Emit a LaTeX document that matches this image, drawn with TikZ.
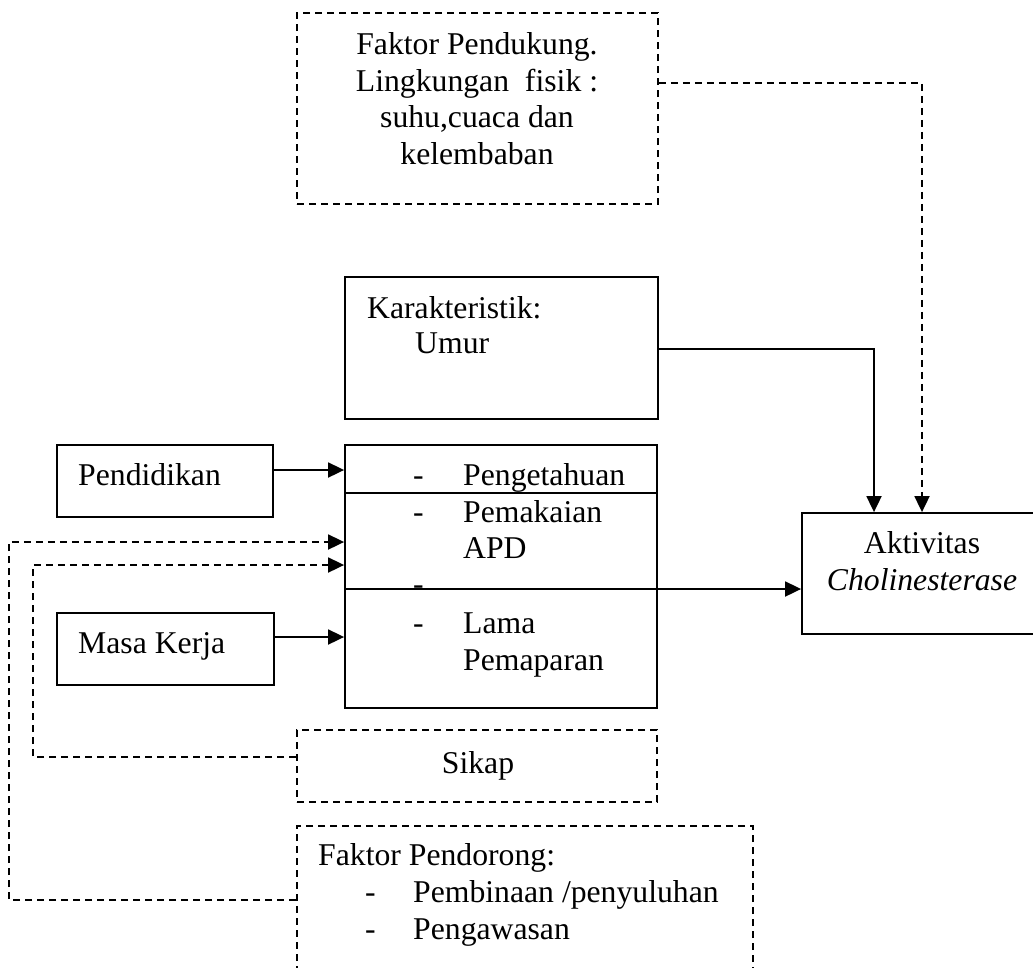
\documentclass[tikz,border=0pt]{standalone}
\usepackage{fontspec}
\setmainfont{Liberation Serif}
\usetikzlibrary{arrows.meta}
\newcommand\dgfont{\fontsize{31.7}{36.5}\selectfont}
\begin{document}
\begin{tikzpicture}[x=1pt,y=-1pt,
  box/.style={draw, line width=1.8pt, rectangle, inner sep=0pt},
  dbox/.style={box, dash pattern=on 7pt off 5pt},
  conn/.style={line width=1.8pt},
  dconn/.style={conn, dash pattern=on 7pt off 5pt},
  arr/.style={-{Triangle[length=16pt,width=15pt]}},
  txt/.style={inner sep=0pt, anchor=base west, font=\dgfont},
  ctxt/.style={inner sep=0pt, anchor=base, font=\dgfont}]
\useasboundingbox (0,0) rectangle (1033,967);
\clip (0,0) rectangle (1033,967);
\fill[white] (0,0) rectangle (1033,967);

% boxes
\node[dbox, minimum width=361pt, minimum height=191pt] (pdk) at (477.5,108.5) {};
\node[box, minimum width=313pt, minimum height=142pt] (kar) at (501.5,348) {};
\node[box, minimum width=312pt, minimum height=263pt] (mid) at (501,576.5) {};
\node[box, minimum width=216pt, minimum height=72pt] (pend) at (165,481) {};
\node[box, minimum width=217pt, minimum height=72pt] (mk) at (165.5,649) {};
\node[dbox, minimum width=360pt, minimum height=72pt] (sik) at (477,766) {};
\node[dbox, minimum width=456pt, minimum height=220pt] (pdr) at (525,936) {};
\node[box, minimum width=260pt, minimum height=121pt] (akt) at (932,573.5) {};

% texts
\node[ctxt] (t1) at (477,54) {Faktor Pendukung.};
\node[ctxt] (t2) at (477,91) {Lingkungan\ \ fisik :};
\node[ctxt] (t3) at (477,127) {suhu,cuaca dan};
\node[ctxt] (t4) at (477,164) {kelembaban};

\node[txt] (k1) at (367,318) {Karakteristik:};
\node[txt] (k2) at (415,353) {Umur};

\node[txt] (pt) at (78,485) {Pendidikan};
\node[txt] (mt) at (78,653) {Masa Kerja};

\node[txt] (d1) at (413,485) {-};
\node[txt] (m1) at (463,485) {Pengetahuan};
\node[txt] (d2) at (413,522) {-};
\node[txt] (m2) at (463,522) {Pemakaian};
\node[txt] (m3) at (463,558) {APD};
\node[txt] (d3) at (413,594) {-};
\node[txt] (d4) at (413,633) {-};
\node[txt] (m4) at (463,633) {Lama};
\node[txt] (m5) at (463,670) {Pemaparan};

\node[ctxt] (st) at (478,773) {Sikap};

\node[txt] (p1) at (318,865) {Faktor Pendorong:};
\node[txt] (p2d) at (365,902) {-};
\node[txt] (p2) at (413,902) {Pembinaan /penyuluhan};
\node[txt] (p3d) at (365,939) {-};
\node[txt] (p3) at (413,939) {Pengawasan};

\node[ctxt] (a1) at (922,553) {Aktivitas};
\node[ctxt] (a2) at (922,590) {\itshape Cholinesterase};

% helper coordinates
\coordinate (yPdk) at (0,83);
\coordinate (xPdk) at (922,0);
\coordinate (xKar) at (874,0);
\coordinate (yKar) at (0,349);
\coordinate (yDiv1) at (0,493);
\coordinate (yDiv2) at (0,589);
\coordinate (yPend) at (0,470);
\coordinate (yMk) at (0,637);
\coordinate (ySik) at (0,757);
\coordinate (yPdr) at (0,900);
\coordinate (cs1) at (33,757);
\coordinate (cs2) at (33,565);
\coordinate (cp1) at (9,900);
\coordinate (cp2) at (9,542);

% divider inside middle box
\draw[conn] (mid.west |- yDiv1) -- (mid.east |- yDiv1);

% connectors
\draw[dconn,arr] (pdk.east |- yPdk) -| (akt.north -| xPdk);
\draw[conn,arr] (kar.east |- yKar) -| (akt.north -| xKar);
\draw[conn,arr] (mid.west |- yDiv2) -- (akt.west |- yDiv2);
\draw[conn,arr] (pend.east |- yPend) -- (mid.west |- yPend);
\draw[conn,arr] (mk.east |- yMk) -- (mid.west |- yMk);
\draw[dconn,arr] (sik.west |- ySik) -- (cs1) -- (cs2) -- (mid.west |- cs2);
\draw[dconn,arr] (pdr.west |- yPdr) -- (cp1) -- (cp2) -- (mid.west |- cp2);
\end{tikzpicture}
\end{document}
